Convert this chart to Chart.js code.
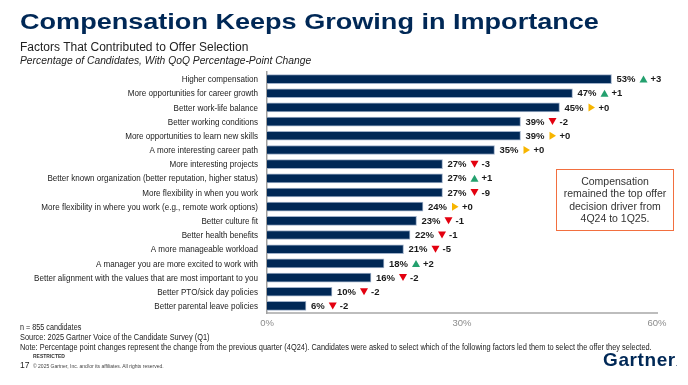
<!DOCTYPE html>
<html><head><meta charset="utf-8">
<script src="https://cdn.jsdelivr.net/npm/chart.js@4/dist/chart.umd.min.js"></script>
<style>
html,body{margin:0;padding:0;background:#fff;}
body{width:688px;height:385px;position:relative;overflow:hidden;font-family:"Liberation Sans",Arial,sans-serif;}
#c{position:absolute;left:0;top:0;}
.t{position:absolute;white-space:nowrap;transform-origin:0 0;}
#title{left:20px;top:9px;font-size:22px;font-weight:bold;color:#002856;transform:scaleX(1.23);}
#sub1{left:20px;top:40px;font-size:12px;color:#222;}
#sub2{left:20px;top:55px;font-size:10.3px;font-style:italic;color:#222;}
.fn{left:20px;font-size:8.5px;color:#222;transform:scaleX(0.87);}
#box{position:absolute;left:556px;top:169px;width:116px;height:55px;border:1.5px solid #f26f3f;text-align:center;font-size:10.5px;line-height:12.3px;color:#333;padding-top:5px;box-sizing:content-box;}
#logo{left:603px;top:349px;font-size:19px;font-weight:bold;color:#002856;letter-spacing:0.6px;}
</style></head><body>
<canvas id="c" width="688" height="385"></canvas>
<div class="t" id="title">Compensation Keeps Growing in Importance</div>
<div class="t" id="sub1">Factors That Contributed to Offer Selection</div>
<div class="t" id="sub2">Percentage of Candidates, With QoQ Percentage-Point Change</div>
<div id="box">Compensation<br>remained the top offer<br>decision driver from<br>4Q24 to 1Q25.</div>
<div class="t fn" style="top:322px;transform:scaleX(0.85)">n = 855 candidates</div>
<div class="t fn" style="top:332px">Source: 2025 Gartner Voice of the Candidate Survey (Q1)</div>
<div class="t fn" style="top:342px">Note: Percentage point changes represent the change from the previous quarter (4Q24). Candidates were asked to select which of the following factors led them to select the offer they selected.</div>
<div class="t" style="left:33px;top:353px;font-size:5px;font-weight:bold;color:#333;">RESTRICTED</div>
<div class="t" style="left:20px;top:360px;font-size:8.5px;color:#222;">17</div>
<div class="t" style="left:33px;top:363px;font-size:5px;color:#444;">© 2025 Gartner, Inc. and/or its affiliates. All rights reserved.</div>
<div class="t" id="logo">Gartner<span style="font-size:5px;">.</span></div>
<script>
const categories = [
  "Higher compensation",
  "More opportunities for career growth",
  "Better work-life balance",
  "Better working conditions",
  "More opportunities to learn new skills",
  "A more interesting career path",
  "More interesting projects",
  "Better known organization (better reputation, higher status)",
  "More flexibility in when you work",
  "More flexibility in where you work (e.g., remote work options)",
  "Better culture fit",
  "Better health benefits",
  "A more manageable workload",
  "A manager you are more excited to work with",
  "Better alignment with the values that are most important to you",
  "Better PTO/sick day policies",
  "Better parental leave policies"
];
const values = [53, 47, 45, 39, 39, 35, 27, 27, 27, 24, 23, 22, 21, 18, 16, 10, 6];
const changes = [3, 1, 0, -2, 0, 0, -3, 1, -9, 0, -1, -1, -5, 2, -2, -2, -2];
const xTicks = [0, 30, 60];

const FONT = '"Liberation Sans", Arial, sans-serif';

// Category labels drawn condensed (narrow face like the original)
const catLabelPlugin = {
  id: 'catLabels',
  afterDraw(chart) {
    const ctx = chart.ctx;
    const ys = chart.scales.y;
    const sx = 0.85;
    const rightX = ys.right - 9;
    ctx.save();
    ctx.font = '9.5px ' + FONT;
    ctx.fillStyle = '#222';
    ctx.textAlign = 'right';
    ctx.textBaseline = 'middle';
    ctx.scale(sx, 1);
    ys.ticks.forEach((t, i) => {
      const y = ys.getPixelForTick(i);
      ctx.fillText(categories[i], rightX / sx, y + 0.5);
    });
    ctx.restore();
  }
};

const labelPlugin = {
  id: 'valueLabels',
  afterDatasetsDraw(chart) {
    const ctx = chart.ctx;
    const meta = chart.getDatasetMeta(0);
    ctx.save();
    meta.data.forEach((bar, i) => {
      const y = bar.y;
      let x = bar.x + 5;
      ctx.font = 'bold 9.5px ' + FONT;
      ctx.fillStyle = '#1a1a1a';
      ctx.textBaseline = 'middle';
      ctx.textAlign = 'left';
      const vt = values[i] + '%';
      ctx.fillText(vt, x, y + 0.5);
      x += ctx.measureText(vt).width + 4;
      const ch = changes[i];
      ctx.beginPath();
      if (ch > 0) {
        ctx.fillStyle = '#23a06e';
        ctx.moveTo(x, y + 3.5); ctx.lineTo(x + 8, y + 3.5); ctx.lineTo(x + 4, y - 3.5);
      } else if (ch < 0) {
        ctx.fillStyle = '#e3000f';
        ctx.moveTo(x, y - 3.5); ctx.lineTo(x + 8, y - 3.5); ctx.lineTo(x + 4, y + 3.5);
      } else {
        ctx.fillStyle = '#f7b500';
        ctx.moveTo(x + 1, y - 4); ctx.lineTo(x + 1, y + 4); ctx.lineTo(x + 7.5, y);
      }
      ctx.closePath();
      ctx.fill();
      x += 11;
      ctx.fillStyle = '#1a1a1a';
      ctx.fillText((ch >= 0 ? '+' : '') + ch, x, y + 0.5);
    });
    ctx.restore();
  }
};

new Chart(document.getElementById('c'), {
  type: 'bar',
  data: {
    labels: categories,
    datasets: [{
      data: values,
      backgroundColor: '#002856',
      borderColor: '#9fb0c8',
      borderWidth: 1,
      barThickness: 9
    }]
  },
  options: {
    indexAxis: 'y',
    responsive: false,
    animation: false,
    layout: { padding: { left: 0, right: 31, top: 72, bottom: 52 } },
    plugins: { legend: { display: false }, tooltip: { enabled: false } },
    scales: {
      x: {
        min: 0, max: 60,
        afterBuildTicks: s => { s.ticks = xTicks.map(v => ({ value: v })); },
        ticks: { callback: v => v + '%', color: '#8c8c8c', font: { size: 9.5, family: FONT }, padding: 5, maxRotation: 0 },
        grid: { display: false, drawTicks: false },
        border: { display: true, color: '#bdbdbd', width: 2 },
        afterFit: s => { s.height = 20; }
      },
      y: {
        ticks: { display: false, autoSkip: false },
        grid: { display: false, drawTicks: false },
        border: { display: true, color: '#a0a0a0', width: 1.5 },
        afterFit: s => { s.width = 267; }
      }
    }
  },
  plugins: [labelPlugin, catLabelPlugin]
});
</script>
</body></html>
